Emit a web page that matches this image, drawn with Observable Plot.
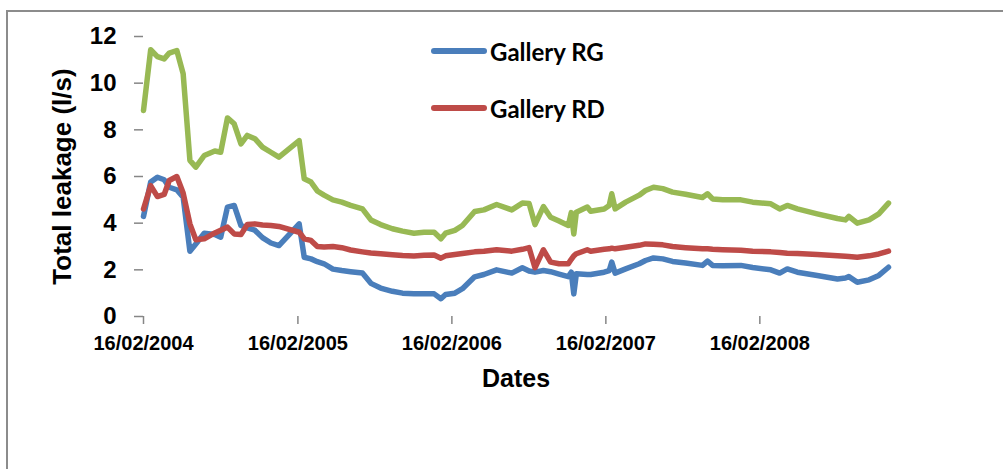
<!DOCTYPE html>
<html>
<head>
<meta charset="utf-8">
<script src="https://cdn.jsdelivr.net/npm/d3@7"></script>
<script src="https://cdn.jsdelivr.net/npm/@observablehq/plot@0.6"></script>
<style>
  html, body { margin: 0; padding: 0; background: #fff; }
  #wrap { position: relative; width: 1003px; height: 469px; overflow: hidden; }
  #frame { position: absolute; left: 6px; top: 10px; right: -10px; bottom: -10px;
           border-left: 2px solid #8c8c8c; border-top: 2px solid #8c8c8c; }
  #chart { position: absolute; left: 0; top: 0; }
  .leg { position: absolute; left: 431px; height: 30px; display: flex; align-items: center;
         font-family: Lato, "Liberation Sans", Arial, sans-serif; font-weight: bold; font-size: 24px; color: #000; }
  .leg .sw { width: 56px; height: 6px; border-radius: 3px; margin-right: 3px; }
</style>
</head>
<body>
<div id="wrap">
  <div id="frame"></div>
  <div id="chart"></div>
  <div id="legend"></div>
</div>
<script>
const dates = ["2004-02-16","2004-03-04","2004-03-20","2004-04-05","2004-04-17","2004-05-05","2004-05-20","2004-06-05","2004-06-19","2004-07-09","2004-08-03","2004-08-17","2004-09-02","2004-09-18","2004-10-04","2004-10-19","2004-11-06","2004-11-24","2004-12-14","2005-01-02","2005-02-19","2005-03-03","2005-03-19","2005-04-03","2005-04-19","2005-05-10","2005-05-31","2005-06-21","2005-07-19","2005-08-08","2005-08-31","2005-09-28","2005-10-22","2005-11-18","2005-12-12","2006-01-05","2006-01-21","2006-02-01","2006-02-23","2006-03-13","2006-04-11","2006-05-03","2006-06-02","2006-07-08","2006-08-02","2006-08-18","2006-09-01","2006-09-21","2006-10-08","2006-10-28","2006-11-19","2006-11-26","2006-12-02","2006-12-08","2007-01-03","2007-01-11","2007-02-12","2007-02-24","2007-03-02","2007-03-10","2007-04-04","2007-05-06","2007-05-21","2007-06-09","2007-07-01","2007-07-24","2007-08-24","2007-10-03","2007-10-15","2007-10-27","2007-11-20","2008-01-02","2008-01-30","2008-03-13","2008-04-03","2008-04-21","2008-05-15","2008-07-01","2008-08-18","2008-09-06","2008-09-14","2008-10-04","2008-11-01","2008-11-24","2008-12-17"];

const galleryRG = [4.29,5.76,5.97,5.86,5.54,5.43,5.11,2.8,3.11,3.57,3.51,3.4,4.69,4.76,3.9,3.8,3.7,3.38,3.15,3.04,3.97,2.54,2.47,2.35,2.26,2.03,1.97,1.92,1.86,1.42,1.22,1.08,1.0,0.97,0.97,0.97,0.76,0.94,1.0,1.19,1.7,1.8,2.0,1.86,2.09,1.95,1.9,1.97,1.92,1.82,1.71,1.9,0.97,1.83,1.8,1.8,1.9,1.97,2.33,1.86,2.04,2.26,2.4,2.51,2.47,2.36,2.29,2.19,2.37,2.19,2.17,2.19,2.1,2.0,1.86,2.04,1.9,1.76,1.61,1.65,1.71,1.47,1.57,1.76,2.11];

const galleryRD = [4.61,5.61,5.14,5.23,5.83,6.0,5.29,3.97,3.29,3.33,3.58,3.7,3.83,3.54,3.51,3.94,3.97,3.92,3.9,3.86,3.61,3.33,3.26,3.0,2.98,3.0,2.95,2.85,2.77,2.72,2.69,2.65,2.61,2.59,2.62,2.64,2.5,2.6,2.66,2.7,2.77,2.8,2.86,2.8,2.88,2.95,2.09,2.86,2.33,2.26,2.26,2.45,2.6,2.69,2.86,2.8,2.88,2.9,2.93,2.9,2.97,3.05,3.11,3.1,3.07,3.0,2.95,2.9,2.9,2.88,2.86,2.84,2.8,2.77,2.74,2.71,2.7,2.66,2.6,2.58,2.57,2.54,2.6,2.68,2.8];

const totalLeak = [8.83,11.43,11.14,11.04,11.29,11.4,10.4,6.69,6.4,6.9,7.09,7.04,8.51,8.26,7.4,7.76,7.62,7.26,7.04,6.83,7.54,5.9,5.76,5.38,5.2,5.0,4.9,4.76,4.61,4.14,3.94,3.76,3.66,3.57,3.61,3.61,3.33,3.57,3.69,3.9,4.5,4.57,4.8,4.57,4.86,4.84,3.94,4.71,4.25,4.09,3.9,4.45,3.54,4.47,4.69,4.51,4.61,4.76,5.26,4.61,4.9,5.2,5.4,5.54,5.48,5.33,5.24,5.1,5.26,5.04,5.0,5.0,4.9,4.83,4.61,4.76,4.61,4.4,4.2,4.14,4.29,4.0,4.14,4.4,4.86];

const yTicks = [0, 2, 4, 6, 8, 10, 12];
const xTickDates = ["2004-02-16","2005-02-16","2006-02-16","2007-02-16","2008-02-16"];
const xDomain = ["2004-02-16","2008-12-17"];
const seriesNames = ["Gallery RG", "Gallery RD"];
const seriesColors = ["#4A7EBB", "#BE4B48", "#98B954"];
const yLabel = "Total leakage (l/s)";
const xLabel = "Dates";

const parse = d3.utcParse("%Y-%m-%d");
const rows = (vals) => dates.map((d, i) => ({date: parse(d), v: vals[i]}));

const axisColor = "#868686";
const lineStyle = {strokeWidth: 5.5, strokeLinejoin: "round", strokeLinecap: "round"};
const chart = Plot.plot({
  width: 1003,
  height: 469,
  marginLeft: 143,
  marginRight: 115,
  marginTop: 36,
  marginBottom: 153,
  style: {fontFamily: "'Liberation Sans', Arial, sans-serif", fontWeight: "bold", background: "transparent", overflow: "visible"},
  x: {type: "utc", domain: xDomain.map(parse)},
  y: {domain: [0, 12]},
  marks: [
    Plot.axisY({ticks: yTicks, tickSize: 9, tickPadding: 18, fontSize: 24, stroke: axisColor, strokeWidth: 1.5, fill: "#000", line: true, label: null}),
    Plot.axisX({ticks: xTickDates.map(parse), tickFormat: d3.utcFormat("%d/%m/%Y"), tickSize: 8, tickPadding: 11, fontSize: 20, stroke: axisColor, strokeWidth: 1.5, fill: "#000", line: true, label: null}),
    Plot.line(rows(galleryRG), {x: "date", y: "v", stroke: seriesColors[0], ...lineStyle}),
    Plot.line(rows(galleryRD), {x: "date", y: "v", stroke: seriesColors[1], ...lineStyle}),
    Plot.line(rows(totalLeak), {x: "date", y: "v", stroke: seriesColors[2], ...lineStyle}),
    Plot.text([yLabel], {frameAnchor: "left", text: d => d, rotate: -90, dx: -81, textAnchor: "middle", lineAnchor: "middle", fontSize: 26, fill: "#000"}),
    Plot.text([xLabel], {frameAnchor: "bottom", text: d => d, dy: 62, textAnchor: "middle", lineAnchor: "middle", fontSize: 25, fill: "#000"})
  ]
});
document.getElementById("chart").appendChild(chart);

const legend = document.getElementById("legend");
const legendTops = [36, 93];
seriesNames.forEach((name, i) => {
  const item = document.createElement("div");
  item.className = "leg";
  item.style.top = legendTops[i] + "px";
  const sw = document.createElement("span");
  sw.className = "sw";
  sw.style.background = seriesColors[i];
  const t = document.createElement("span");
  t.textContent = name;
  item.appendChild(sw);
  item.appendChild(t);
  legend.appendChild(item);
});
</script>
</body>
</html>
